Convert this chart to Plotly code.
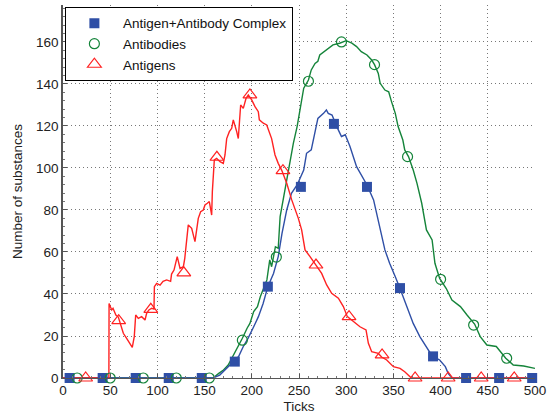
import plotly.graph_objects as go

# ---------------- data ----------------
# Antigen+Antibody Complex (blue line)
complex_x = [0, 159, 166, 173, 180, 186, 191, 196, 202, 207, 212, 217, 223, 228, 232, 237, 242, 248,
             255, 258, 263, 267, 270, 276, 279, 281, 285, 290, 295, 299, 304, 311, 322, 329, 334,
             341, 346, 350, 352, 357, 364, 371, 378, 385, 391, 399, 405, 408, 412, 500]
complex_y = [0, 0, 1.4, 4.6, 7.8, 10.2, 15, 18.9, 24.4, 29.2, 35.5, 43.5, 49.8, 57.8, 68.9, 80, 87.9, 91.9,
             99, 107, 108.6, 118, 123.6, 126, 127.6, 126, 125.2, 119.7, 115, 115.8, 110.2, 100.6, 91.9, 84.8, 74.4,
             61, 54.6, 49.8, 48.2, 42.6, 34, 26, 19.7, 15, 10.5, 8.6, 5.4, 2.2, 0, 0]

# Antibodies (green line)
antibody_x = [0, 159, 165, 170, 175, 180, 186, 190, 195, 198, 202, 206, 209, 212, 216, 219, 221, 225, 228,
              230, 235, 240, 244, 248, 251, 255, 260, 263, 267, 270, 272, 279, 286, 293, 300, 306, 311,
              316, 322, 327, 330, 334, 336, 341, 345, 348, 352, 355, 360, 362, 366, 371, 375, 380, 385,
              391, 394, 399, 406, 412, 421, 428, 436, 442, 449, 459, 469, 477, 488, 500]
antibody_y = [0, 0, 2.2, 3.8, 6.2, 10.2, 15, 18.9, 23.7, 26, 31.6, 34, 38.7, 41.9, 46.7, 56.2, 53, 62.5, 61.7,
              76.8, 89.5, 102.2, 111.7, 119.7, 127.6, 138, 141.9, 146.7, 149.8, 150.8, 153.8, 156.2, 158.6, 159.4, 160.6, 159.4, 157.8,
              155.4, 153.8, 151.4, 149.2, 145, 140.3, 137.1, 136.3, 131.6, 126, 119.7, 113.3, 108.6, 105.4, 99, 92.7, 83.2, 70.5,
              65.7, 54.6, 47.4, 42.6, 37.1, 34, 30, 25.7, 19.7, 15.7, 15, 9.4, 6.2, 5.7, 4.6]

# Antigens (red line)
antigen_x = [0, 48.6, 48.8, 51.6, 53, 56, 58.6, 61, 63.9, 67.4, 71, 73.4, 75.5, 77, 79.8, 83.3, 86.9, 88.6, 91,
             94, 96.4, 96.8, 99.2, 102.8, 106, 109.8, 114, 115, 117.6, 119.7, 121, 124, 127.5, 129, 132.7,
             136.3, 139.8, 143.3, 145.8, 148.6, 150.4, 152.9, 155, 157.5, 158.2, 160.3, 162.8, 166.3, 169.8,
             171.6, 173.4, 176.2, 178.7, 180.4, 182.2, 184, 185.7, 187.5, 188.2, 191, 193.9, 196.3, 199.9,
             203.4, 206.9, 208, 212.2, 215.8, 219.3, 221, 224.6, 228, 231.6, 237, 242.3, 249.3, 252.8, 256.4,
             261.7, 268, 274, 279.3, 284.6, 291.7, 297, 301.2, 307.6, 314.6, 321, 323.5, 327, 334, 337.5,
             342.9, 350, 357, 362, 367.6, 369, 500]
antigen_y = [0, 0, 35.5, 32.4, 33.2, 30, 29, 25.2, 21.3, 18.9, 16.5, 14.6, 19.7, 30, 28.4, 29.2, 27.6, 30.8, 32.4,
             33.2, 32.8, 43.5, 45, 44.2, 46, 46.7, 46, 49.5, 51.4, 54.6, 57.8, 52.2, 53, 57, 72.9,
             71.3, 64.9, 76, 79.2, 80, 82.4, 83.2, 84, 77.6, 88.7, 103.8, 104.6, 103, 102.2,
             106.2, 114, 117.3, 118.9, 122.9, 120.5, 117.3, 114, 124.4, 130, 128.4, 133.2, 134.8, 132.4,
             129.2, 126.8, 122.9, 121.3, 120.5, 116.5, 114, 106.2, 102.2, 99, 92.7, 84.8, 76, 70.5, 61,
             57.8, 53.8, 49.8, 44.3, 40.3, 38, 34, 29.2, 26.8, 24.4, 22.9, 16.5, 12.5, 11.7, 10,
             8.6, 5.4, 4.6, 3, 0.6, 0, 0]

# marker positions (every 35 ticks)
complex_mx = [7, 42, 77, 112, 147, 182, 217, 252, 287, 322, 357, 392, 427, 462, 497]
complex_my = [0, 0, 0, 0, 0, 7.8, 43.5, 91, 121, 91, 42.8, 10.3, 0, 0, 0]
antibody_mx = [15, 50, 85, 120, 155, 190, 226, 260, 295, 330, 365, 400, 435, 470]
antibody_my = [0, 0, 0, 0, 0, 18, 57.6, 141.3, 160, 149.2, 105.4, 47, 25.2, 9.4]
antigen_mx = [24, 59, 93, 128, 163, 198, 233, 268, 303, 338, 373, 408, 443, 478]
antigen_my = [0, 27.3, 32.7, 50.1, 105.1, 134.8, 98.7, 53.8, 29.2, 11, 0, 0, 0, 0]

x_ticks = [0, 50, 100, 150, 200, 250, 300, 350, 400, 450, 500]
y_ticks = [0, 20, 40, 60, 80, 100, 120, 140, 160]

BLUE = "#2F4FA6"
GREEN = "#15843A"
RED = "#FF2222"
FONT = "Liberation Sans, Arial, sans-serif"

fig = go.Figure()

# lines (no legend)
fig.add_trace(go.Scatter(x=antibody_x, y=antibody_y, mode="lines",
                         line=dict(color=GREEN, width=1.4), showlegend=False, hoverinfo="skip"))
fig.add_trace(go.Scatter(x=complex_x, y=complex_y, mode="lines",
                         line=dict(color=BLUE, width=1.4), showlegend=False, hoverinfo="skip"))
fig.add_trace(go.Scatter(x=antigen_x, y=antigen_y, mode="lines",
                         line=dict(color=RED, width=1.4), showlegend=False, hoverinfo="skip"))

# markers (legend entries)
fig.add_trace(go.Scatter(x=complex_mx, y=complex_my, mode="markers", name="Antigen+Antibody Complex",
                         marker=dict(symbol="square", size=10, color=BLUE, line=dict(width=0)),
                         cliponaxis=False))
fig.add_trace(go.Scatter(x=antibody_mx, y=antibody_my, mode="markers", name="Antibodies",
                         marker=dict(symbol="circle-open", size=10, color=GREEN, line=dict(width=1.2)),
                         cliponaxis=False))
fig.add_trace(go.Scatter(x=antigen_mx, y=antigen_my, mode="markers", name="Antigens",
                         marker=dict(symbol="triangle-up-open", size=12, color=RED, line=dict(width=1.2)),
                         cliponaxis=False))

fig.update_layout(
    width=553, height=417,
    margin=dict(l=63, r=18, t=5, b=39),
    paper_bgcolor="white", plot_bgcolor="white",
    font=dict(family=FONT, size=13, color="#222"),
    legend=dict(x=0.004, y=0.995, xanchor="left", yanchor="top",
                bgcolor="white", bordercolor="black", borderwidth=1,
                font=dict(family=FONT, size=13.5, color="#111"),
                itemwidth=47, tracegroupgap=0),
    xaxis=dict(range=[0, 500], tickvals=x_ticks, ticktext=[str(v) for v in x_ticks],
               showgrid=True, gridcolor="#777", griddash="1px,3px", gridwidth=1,
               showline=True, linecolor="#555", linewidth=1.2,
               ticks="inside", ticklen=4, tickcolor="#555",
               minor=dict(dtick=10, ticks="inside", ticklen=2, tickcolor="#777", showgrid=False),
               zeroline=False, title=dict(text="Ticks", font=dict(size=13.5), standoff=4),
               tickfont=dict(size=13.5)),
    yaxis=dict(range=[0, 177.6], tickvals=y_ticks, ticktext=[str(v) for v in y_ticks],
               showgrid=True, gridcolor="#777", griddash="1px,3px", gridwidth=1,
               showline=True, linecolor="#555", linewidth=1.5,
               ticks="inside", ticklen=4, tickcolor="#555",
               minor=dict(dtick=4, ticks="inside", ticklen=2, tickcolor="#777", showgrid=False),
               zeroline=False, title=dict(text="Number of substances", font=dict(size=13.5), standoff=10),
               tickfont=dict(size=13.5)),
)

fig.write_html("out.html")
